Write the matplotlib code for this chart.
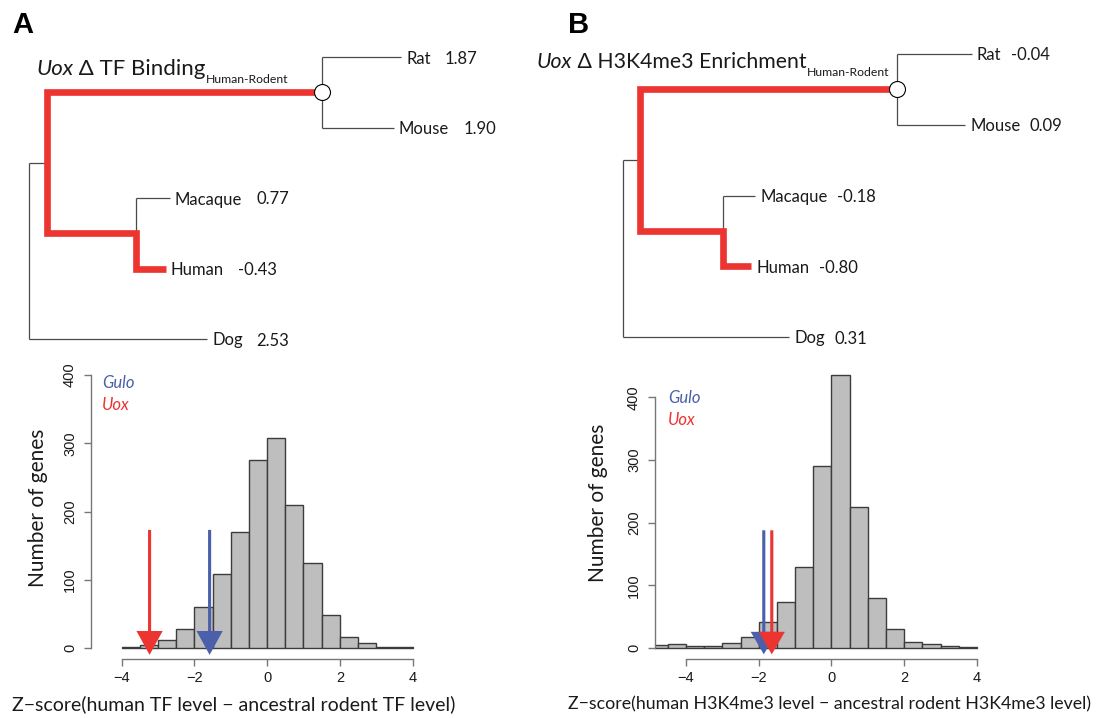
import numpy as np
import matplotlib
matplotlib.use("Agg")
import matplotlib.pyplot as plt

W, H = 1099, 718

# histogram counts, bins of width 0.5
edges_a = np.arange(-4.0, 4.01, 0.5)
counts_a = [1, 4, 12, 28, 60, 108, 170, 275, 308, 209, 125, 49, 16, 7, 1, 2]
edges_b = np.arange(-5.0, 4.01, 0.5)
counts_b = [5, 6, 3, 4, 8, 17, 42, 74, 130, 291, 436, 225, 80, 30, 9, 7, 3, 1]

# z-scores of the two genes (panel A, panel B)
gulo_z = [-1.58, -1.86]
uox_z = [-3.23, -1.64]

# trees
species = ["Rat", "Mouse", "Macaque", "Human", "Dog"]
tf_values = ["1.87", "1.90", "0.77", "-0.43", "2.53"]
h3_values = ["-0.04", "0.09", "-0.18", "-0.80", "0.31"]
# depth from root: leaves (same order as species), internal nodes (ingroup, rodent, primate)
tf_leaf_depth = [372, 365, 141, 137, 178]
tf_node_depth = [18, 293, 107]
h3_leaf_depth = [349, 342, 132, 128, 166]
h3_node_depth = [17, 274, 100]

RED = "#EC3431"
BLUE = "#4B5FAA"
TXT = "#1a1a1a"
FONT = "Lato"

fig = plt.figure(figsize=(W / 100, H / 100), dpi=100)


def px_axes(l, t, r, b):
    return fig.add_axes([l / W, 1 - b / H, (r - l) / W, (b - t) / H])


def draw_hist(ax, edges, counts, xlim, ylim):
    ax.bar(edges[:-1], counts, width=0.5, align="edge", color="#BEBEBE",
           edgecolor="#3c3c3c", linewidth=1.0)
    ax.set_xlim(*xlim)
    ax.set_ylim(*ylim)
    for s in ["top", "right"]:
        ax.spines[s].set_visible(False)
    ax.spines["left"].set_bounds(0, 400)
    ax.spines["bottom"].set_bounds(-4, 4)
    for s in ["left", "bottom"]:
        ax.spines[s].set_color("#777777")
        ax.spines[s].set_linewidth(1.0)
    ax.set_xticks([-4, -2, 0, 2, 4])
    ax.set_yticks([0, 100, 200, 300, 400])
    ax.tick_params(axis="both", direction="out", length=5, width=1.0,
                   color="#777777", labelcolor=TXT, labelsize=10.5)
    ax.tick_params(axis="y", pad=5, labelrotation=90)
    ax.tick_params(axis="x", pad=4)
    for lab in ax.get_yticklabels():
        lab.set_va("center")
        lab.set_fontfamily("Liberation Sans")
    for lab in ax.get_xticklabels():
        lab.set_fontfamily("Liberation Sans")
    ax.patch.set_alpha(0)


def draw_arrow(ax, x, top, color, head):
    ax.arrow(x, top, 0, -(top + 10), width=0.085, head_width=0.72,
             head_length=head, length_includes_head=True, color=color,
             linewidth=0, clip_on=False, zorder=5)


ax_a = px_axes(91, 364, 425, 659)
draw_hist(ax_a, edges_a, counts_a, (-4.84, 4.34), (-16, 416))
draw_arrow(ax_a, uox_z[0], 173, RED, 35)
draw_arrow(ax_a, gulo_z[0], 173, BLUE, 35)

ax_b = px_axes(655, 364, 989, 659)
draw_hist(ax_b, edges_b, counts_b, (-4.85, 4.33), (-17.4, 453.4))
draw_arrow(ax_b, gulo_z[1], 188, BLUE, 36)
draw_arrow(ax_b, uox_z[1], 188, RED, 36)

# overlay in pixel coordinates for trees and free text
ov = fig.add_axes([0, 0, 1, 1])
ov.set_xlim(0, W)
ov.set_ylim(H, 0)
ov.axis("off")
ov.patch.set_alpha(0)


def draw_tree(x0, y0, dy, node_depth, leaf_depth, values, gap):
    rows = y0 + dy * np.arange(len(species))
    xi, xr, xp = [x0 + d for d in node_depth]
    lx = [x0 + d for d in leaf_depth]
    y_rod = (rows[0] + rows[1]) / 2
    y_pri = (rows[2] + rows[3]) / 2
    y_in = (y_rod + y_pri) / 2
    thin = dict(color="#4a4a4a", lw=0.9, solid_capstyle="butt")
    ov.plot([x0, x0], [y_in, rows[4]], **thin)
    ov.plot([x0, xi], [y_in, y_in], **thin)
    ov.plot([x0, lx[4]], [rows[4], rows[4]], **thin)
    ov.plot([xr, xr], [rows[0], rows[1]], **thin)
    ov.plot([xr, lx[0]], [rows[0], rows[0]], **thin)
    ov.plot([xr, lx[1]], [rows[1], rows[1]], **thin)
    ov.plot([xp, xp], [rows[2], y_pri], **thin)
    ov.plot([xp, lx[2]], [rows[2], rows[2]], **thin)
    ov.plot([xr, xi, xi, xp, xp, lx[3]],
            [y_rod, y_rod, y_pri, y_pri, rows[3], rows[3]],
            color=RED, lw=4.8, solid_joinstyle="miter", solid_capstyle="butt")
    ov.plot(xr, y_rod, "o", ms=11.5, mfc="white", mec="black", mew=0.8, zorder=5)
    for name, val, x, y in zip(species, values, lx, rows):
        t = ov.text(x + 5, y + 6.5, name, fontsize=12, family=FONT,
                    color=TXT, va="baseline", ha="left")
        ov.annotate(val, xy=(1, 0), xycoords=t, xytext=(gap, 0),
                    textcoords="offset points", fontsize=12, family=FONT,
                    color=TXT, va="bottom", ha="left")


def draw_title(x, y, rest, size):
    t1 = ov.text(x, y, "Uox", fontsize=size, family=FONT, style="italic",
                 color=TXT, va="baseline", ha="left")
    t2 = ov.annotate(" \u0394 " + rest, xy=(1, 0), xycoords=t1, fontsize=size,
                     family=FONT, color=TXT, va="bottom", ha="left")
    ov.annotate("Human-Rodent", xy=(1, 0), xycoords=t2, xytext=(0, -3),
                textcoords="offset points", fontsize=8.8, family=FONT,
                color=TXT, va="baseline", ha="left")


draw_tree(29, 57, 70.5, tf_node_depth, tf_leaf_depth, tf_values, 10)
draw_tree(623, 54, 70.75, h3_node_depth, h3_leaf_depth, h3_values, 7)
draw_title(36, 75, "TF Binding", 16)
draw_title(537, 68, "H3K4me3 Enrichment", 15.3)

# panel letters
ov.text(12, 33, "A", fontsize=21, weight="bold", family="Liberation Sans",
        color="black", va="baseline", ha="left")
ov.text(568, 33, "B", fontsize=21, weight="bold", family="Liberation Sans",
        color="black", va="baseline", ha="left")

# axis labels and gene keys
ov.text(38, 508, "Number of genes", fontsize=15, family=FONT, color=TXT,
        rotation=90, ha="center", va="center")
ov.text(598, 503, "Number of genes", fontsize=15, family=FONT, color=TXT,
        rotation=90, ha="center", va="center")
ov.text(234, 704, "Z\u2212score(human TF level \u2212 ancestral rodent TF level)",
        fontsize=14, family=FONT, color=TXT, ha="center", va="center")
ov.text(829, 704, "Z\u2212score(human H3K4me3 level \u2212 ancestral rodent H3K4me3 level)",
        fontsize=12.8, family=FONT, color=TXT, ha="center", va="center")

for x, y in [(102, 388), (668, 403)]:
    ov.text(x, y, "Gulo", fontsize=12, family=FONT, style="italic",
            color=BLUE, va="baseline", ha="left")
    ov.text(x, y + 22, "Uox", fontsize=12, family=FONT, style="italic",
            color=RED, va="baseline", ha="left")

fig.savefig("out.png", dpi=100)
